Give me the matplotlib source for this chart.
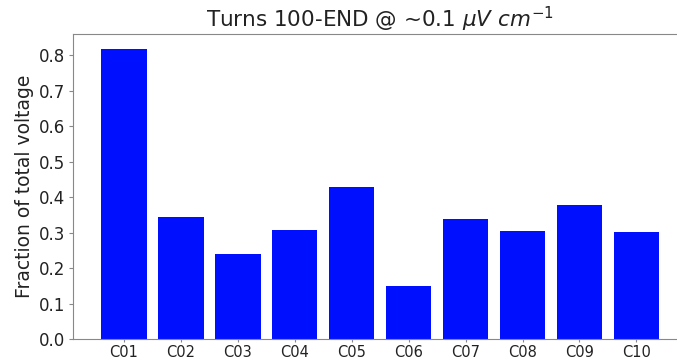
import matplotlib
matplotlib.use("Agg")
import matplotlib.pyplot as plt

coils = ["C01", "C02", "C03", "C04", "C05", "C06", "C07", "C08", "C09", "C10"]
fraction = [0.818, 0.344, 0.241, 0.308, 0.429, 0.151, 0.338, 0.305, 0.379, 0.303]

fig = plt.figure(figsize=(6.77, 3.61), dpi=100)
# axes run slightly past the right edge of the canvas
ax = fig.add_axes([0.108, 0.0596, 0.907, 0.846])

ax.bar(coils, fraction, width=0.8, color="#0010ff")

for s in ax.spines.values():
    s.set_color("#888888")
ax.tick_params(axis="both", colors="#888888", labelcolor="#222222")
ax.tick_params(axis="y", labelsize=12, length=3, pad=3)
ax.tick_params(axis="x", labelsize=10.5, length=2.5, pad=1.5)
ax.set_ylabel("Fraction of total voltage", fontsize=13.5, color="#222222", labelpad=3)
ax.set_title(r"Turns 100-END @ ~0.1 $\mu V\ cm^{-1}$", fontsize=15.5,
             color="#222222", pad=4.5)

fig.savefig("out.png", dpi=100)
